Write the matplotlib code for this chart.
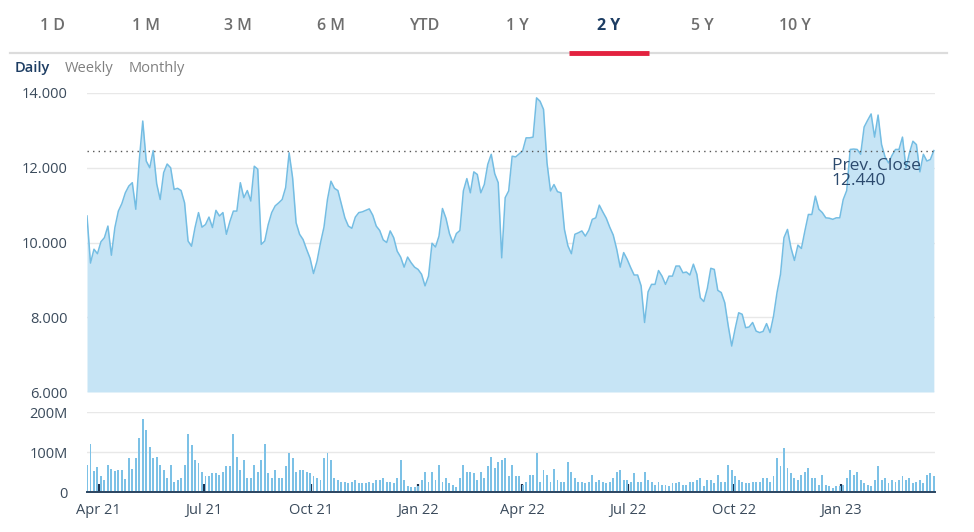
import matplotlib
matplotlib.use("Agg")
import matplotlib.pyplot as plt
import matplotlib.dates as mdates
import numpy as np
import pandas as pd

plt.rcParams['font.family'] = ['Open Sans', 'DejaVu Sans']

# ---------------- data ----------------
start_date = "2021-03-22"
end_date = "2023-03-22"

price = [
    10.71, 9.45, 9.82, 9.70, 10.02, 10.13, 10.44, 9.66, 10.40, 10.84,
    11.04, 11.33, 11.51, 11.60, 10.89, 12.20, 13.25, 12.18, 12.00, 12.46,
    11.57, 11.15, 11.87, 12.10, 12.00, 11.42, 11.45, 11.39, 11.06, 10.04,
    9.90, 10.40, 10.80, 10.41, 10.48, 10.68, 10.40, 10.86, 10.71, 10.80,
    10.22, 10.56, 10.84, 10.84, 11.60, 11.20, 11.39, 11.11, 12.04, 11.96,
    9.95, 10.04, 10.48, 10.80, 10.98, 11.06, 11.15, 11.47, 12.40, 11.73,
    10.53, 10.22, 10.08, 9.82, 9.58, 9.17, 9.50, 9.99, 10.41, 11.15,
    11.64, 11.45, 11.39, 11.02, 10.66, 10.44, 10.38, 10.68, 10.80, 10.82,
    10.86, 10.90, 10.73, 10.44, 10.32, 10.07, 10.00, 10.31, 10.13, 9.77,
    9.61, 9.34, 9.61, 9.46, 9.34, 9.28, 9.15, 8.84, 9.10, 9.98,
    9.88, 10.17, 10.91, 10.65, 10.24, 9.99, 10.24, 10.32, 11.38, 11.71,
    11.33, 11.89, 11.82, 11.33, 11.55, 12.09, 12.36, 11.84, 11.60, 9.59,
    11.20, 11.38, 12.31, 12.29, 12.37, 12.45, 12.80, 12.80, 12.82, 13.87,
    13.78, 13.56, 12.13, 11.38, 11.55, 11.36, 11.33, 10.35, 9.91, 9.70,
    10.22, 10.26, 10.31, 10.17, 10.33, 10.62, 10.66, 11.00, 10.82, 10.65,
    10.41, 10.20, 9.82, 9.34, 9.73, 9.55, 9.33, 9.13, 9.13, 8.84,
    7.86, 8.68, 8.88, 8.88, 9.25, 9.10, 8.88, 9.10, 9.10, 9.37,
    9.37, 9.19, 9.21, 9.13, 9.42, 9.15, 8.52, 8.42, 8.77, 9.31,
    9.28, 8.72, 8.66, 8.39, 7.77, 7.23, 7.70, 8.12, 8.08, 7.72,
    7.74, 7.86, 7.63, 7.59, 7.62, 7.83, 7.59, 8.03, 8.66, 9.15,
    10.13, 10.35, 9.86, 9.52, 9.93, 9.84, 10.31, 10.75, 10.75, 11.24,
    10.89, 10.80, 10.66, 10.65, 10.62, 10.66, 10.66, 11.15, 11.39, 12.49,
    12.50, 12.49, 12.36, 13.09, 13.27, 13.44, 12.82, 13.41, 12.62, 12.29,
    12.13, 12.33, 12.49, 12.49, 12.82, 12.00, 12.40, 12.71, 12.62, 11.89,
    12.36, 12.18, 12.22, 12.46,
]

volume_m = [
    68, 119, 52, 62, 40, 30, 68, 58, 52, 55,
    55, 33, 84, 58, 84, 134, 183, 155, 113, 84,
    88, 68, 55, 35, 68, 26, 31, 35, 68, 146,
    117, 80, 72, 51, 39, 39, 47, 47, 43, 51,
    64, 64, 146, 88, 55, 80, 35, 35, 68, 51,
    80, 121, 47, 35, 55, 35, 35, 64, 97, 84,
    51, 55, 55, 51, 47, 39, 35, 31, 84, 97,
    80, 35, 31, 26, 26, 22, 26, 31, 22, 22,
    22, 26, 22, 30, 31, 35, 26, 26, 22, 35,
    80, 30, 14, 12, 12, 14, 30, 51, 26, 51,
    30, 68, 26, 35, 22, 18, 12, 35, 68, 51,
    51, 47, 31, 51, 35, 64, 88, 60, 76, 80,
    84, 39, 68, 39, 39, 18, 26, 43, 43, 97,
    26, 55, 43, 26, 57, 31, 26, 26, 76, 51,
    35, 26, 26, 22, 26, 43, 26, 31, 26, 22,
    26, 35, 51, 55, 31, 31, 26, 47, 26, 26,
    49, 30, 26, 18, 26, 18, 18, 14, 22, 22,
    26, 18, 18, 26, 26, 31, 35, 14, 31, 31,
    22, 43, 26, 26, 68, 55, 39, 31, 26, 22,
    22, 26, 26, 26, 35, 35, 26, 39, 84, 64,
    110, 59, 47, 35, 31, 43, 51, 59, 35, 35,
    18, 43, 18, 14, 10, 14, 14, 18, 35, 55,
    43, 51, 31, 22, 18, 14, 31, 64, 31, 35,
    22, 31, 26, 31, 39, 31, 35, 22, 26, 31,
    22, 43, 47, 40,
]

prev_close = 12.440
price_ticks = [6, 8, 10, 12, 14]
volume_ticks_m = [0, 100, 200]
tabs = ["1 D", "1 M", "3 M", "6 M", "YTD", "1 Y", "2 Y", "5 Y", "10 Y"]
active_tab = "2 Y"
intervals = ["Daily", "Weekly", "Monthly"]

# ---------------- figure ----------------
W, H = 974, 532
fig = plt.figure(figsize=(W / 100, H / 100), dpi=100)

dates = pd.date_range(start_date, end_date, periods=len(price))
x0 = pd.Timestamp(start_date)
x1 = pd.Timestamp(end_date) + pd.Timedelta(days=1)

def fx(px):
    return px / W

def fy(py):
    return 1 - py / H

NAVY = '#1d3d63'
GREY = '#6e6e6e'
LABEL = '#3b4b5c'

# tabs
tab_x = [53, 146, 238, 331, 424, 517, 609, 702, 795]
for t, x in zip(tabs, tab_x):
    is_act = (t == active_tab)
    fig.text(fx(x), fy(26), t, ha='center', va='center', fontsize=11.5,
             color=NAVY if is_act else GREY, fontweight='bold' if is_act else 'semibold')

fig.add_artist(plt.Line2D([fx(10), fx(947)], [fy(52.5), fy(52.5)], color='#dcdcdc', lw=1.6))
fig.add_artist(plt.Line2D([fx(569), fx(649)], [fy(53), fy(53)], color='#e3223f', lw=3.5,
                          solid_capstyle='butt'))

int_x = [15, 65, 129]
for t, x in zip(intervals, int_x):
    fig.text(fx(x), fy(68), t, ha='left', va='center', fontsize=10.5,
             color=NAVY if t == "Daily" else '#808080',
             fontweight='semibold' if t == "Daily" else 'normal')

# price axes
ax_l, ax_r = 87, 935
p_top, p_bot = 93, 392
ax = fig.add_axes([fx(ax_l), fy(p_bot), (ax_r - ax_l) / W, (p_bot - p_top) / H])
ax.set_xlim(x0, x1)
ax.set_ylim(6, 14)
ax.fill_between(dates, price, 6, color='#c6e4f5', lw=0)
ax.plot(dates, price, color='#74bde3', lw=1.1)
ax.axhline(prev_close, color='#555555', lw=1.0, ls=(0, (1, 3)))
ax.set_yticks(price_ticks)
ax.set_yticklabels([f"{v:.3f}" for v in price_ticks])
ax.grid(axis='y', color='#e8e8e8', lw=1)
ax.set_axisbelow(True)
for s in ax.spines.values():
    s.set_visible(False)
ax.tick_params(axis='y', length=0, pad=14, labelsize=10.5, labelcolor=LABEL)
ax.tick_params(axis='x', length=0, labelbottom=False)
ax.text(dates[-1] - pd.Timedelta(days=88), prev_close - 0.17, f"Prev. Close\n{prev_close:.3f}",
        ha='left', va='top', fontsize=12.5, color='#2c4a6e', linespacing=0.92)

# volume axes
v_top, v_bot = 412, 492
axv = fig.add_axes([fx(ax_l), fy(v_bot), (ax_r - ax_l) / W, (v_bot - v_top) / H])
axv.set_xlim(x0, x1)
axv.set_ylim(0, 200)
bw = (pd.Timestamp(end_date) - pd.Timestamp(start_date)).days / (len(volume_m) - 1) * 0.55
axv.bar(dates, volume_m, width=bw, color='#7cc1e6', lw=0)
axv.set_yticks(volume_ticks_m)
axv.set_yticklabels([("0" if v == 0 else f"{v}M") for v in volume_ticks_m])
axv.grid(axis='y', color='#e8e8e8', lw=1)
axv.set_axisbelow(True)
for k in ['top', 'right', 'left']:
    axv.spines[k].set_visible(False)
axv.spines['bottom'].set_color('#2a4460')
axv.spines['bottom'].set_linewidth(1.4)
axv.tick_params(axis='y', length=0, pad=14, labelsize=10.5, labelcolor=LABEL)
axv.xaxis.set_major_locator(mdates.MonthLocator(bymonth=[1, 4, 7, 10]))
axv.xaxis.set_major_formatter(mdates.DateFormatter('%b %y'))
axv.tick_params(axis='x', direction='in', length=6, width=1.6, color='#1d3350',
                pad=8, labelsize=10.5, labelcolor=LABEL)

fig.savefig("out.png", dpi=100)
